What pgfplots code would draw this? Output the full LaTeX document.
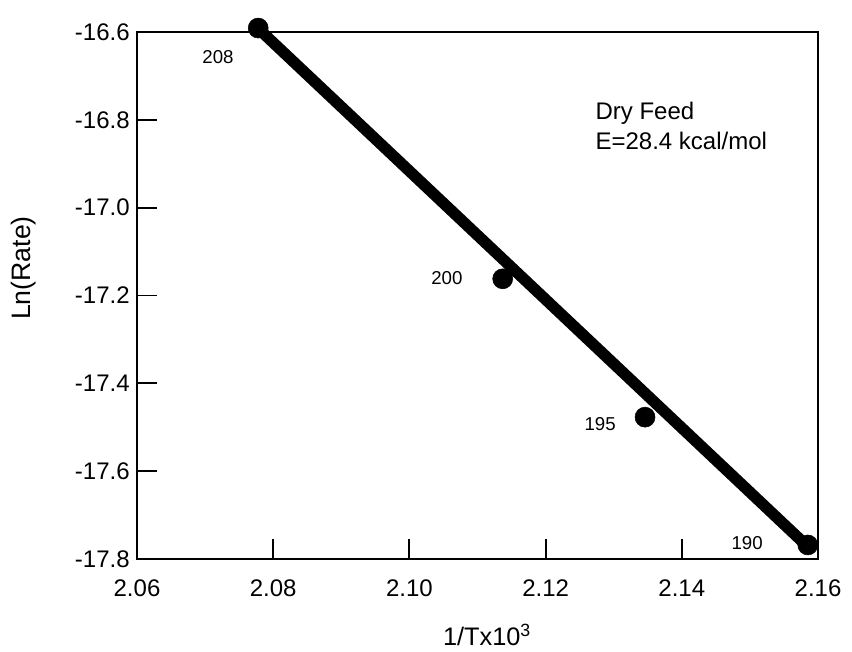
\documentclass[border=0pt]{standalone}
\usepackage{fontspec}
\setmainfont{Liberation Sans}
\usepackage{pgfplots}
\pgfplotsset{compat=1.18}
\begin{document}
\begin{tikzpicture}
\useasboundingbox (0,0) rectangle (639pt,488.25pt);
\begin{axis}[
  at={(102.75pt,69pt)}, anchor=south west,
  width=510.75pt, height=395.25pt, scale only axis,
  xmin=2.06, xmax=2.16, ymin=-17.8, ymax=-16.6,
  xtick={2.06,2.08,2.10,2.12,2.14,2.16},
  ytick={-17.8,-17.6,-17.4,-17.2,-17.0,-16.8,-16.6},
  xticklabels={2.06,2.08,2.10,2.12,2.14,2.16},
  yticklabels={-17.8,-17.6,-17.4,-17.2,-17.0,-16.8,-16.6},
  tick align=inside, major tick length=15pt,
  tick style={line width=1.4pt, black},
  axis line style={line width=2pt},
  xtick pos=bottom, ytick pos=left,
  xticklabel style={font=\fontsize{18}{20}\selectfont, yshift=-12pt},
  yticklabel style={font=\fontsize{18}{20}\selectfont, xshift=-2pt},
  clip=false,
]
\addplot[line width=8.5pt, black] coordinates {(2.0778,-16.592) (2.1585,-17.772)};
\addplot[only marks, mark=*, mark size=7.5pt, black] coordinates {
  (2.0778,-16.591) (2.1137,-17.162) (2.1346,-17.477) (2.1585,-17.768)};
\node[font=\fontsize{14}{16}\selectfont] at (axis cs:2.0719,-16.657) {208};
\node[font=\fontsize{14}{16}\selectfont] at (axis cs:2.1055,-17.160) {200};
\node[font=\fontsize{14}{16}\selectfont] at (axis cs:2.1280,-17.493) {195};
\node[font=\fontsize{14}{16}\selectfont] at (axis cs:2.1496,-17.764) {190};
\node[font=\fontsize{18}{20}\selectfont, anchor=west, inner sep=0pt] at (axis cs:2.1273,-16.785) {Dry Feed};
\node[font=\fontsize{18}{20}\selectfont, anchor=west, inner sep=0pt] at (axis cs:2.1273,-16.848) {E=28.4 kcal/mol};
\end{axis}
\node[rotate=90, font=\fontsize{20}{22}\selectfont] at (18pt,287.25pt) {Ln(Rate)};
\node[font=\fontsize{19}{21}\selectfont] at (365.25pt,12pt) {1/Tx10\textsuperscript{3}};
\end{tikzpicture}
\end{document}
